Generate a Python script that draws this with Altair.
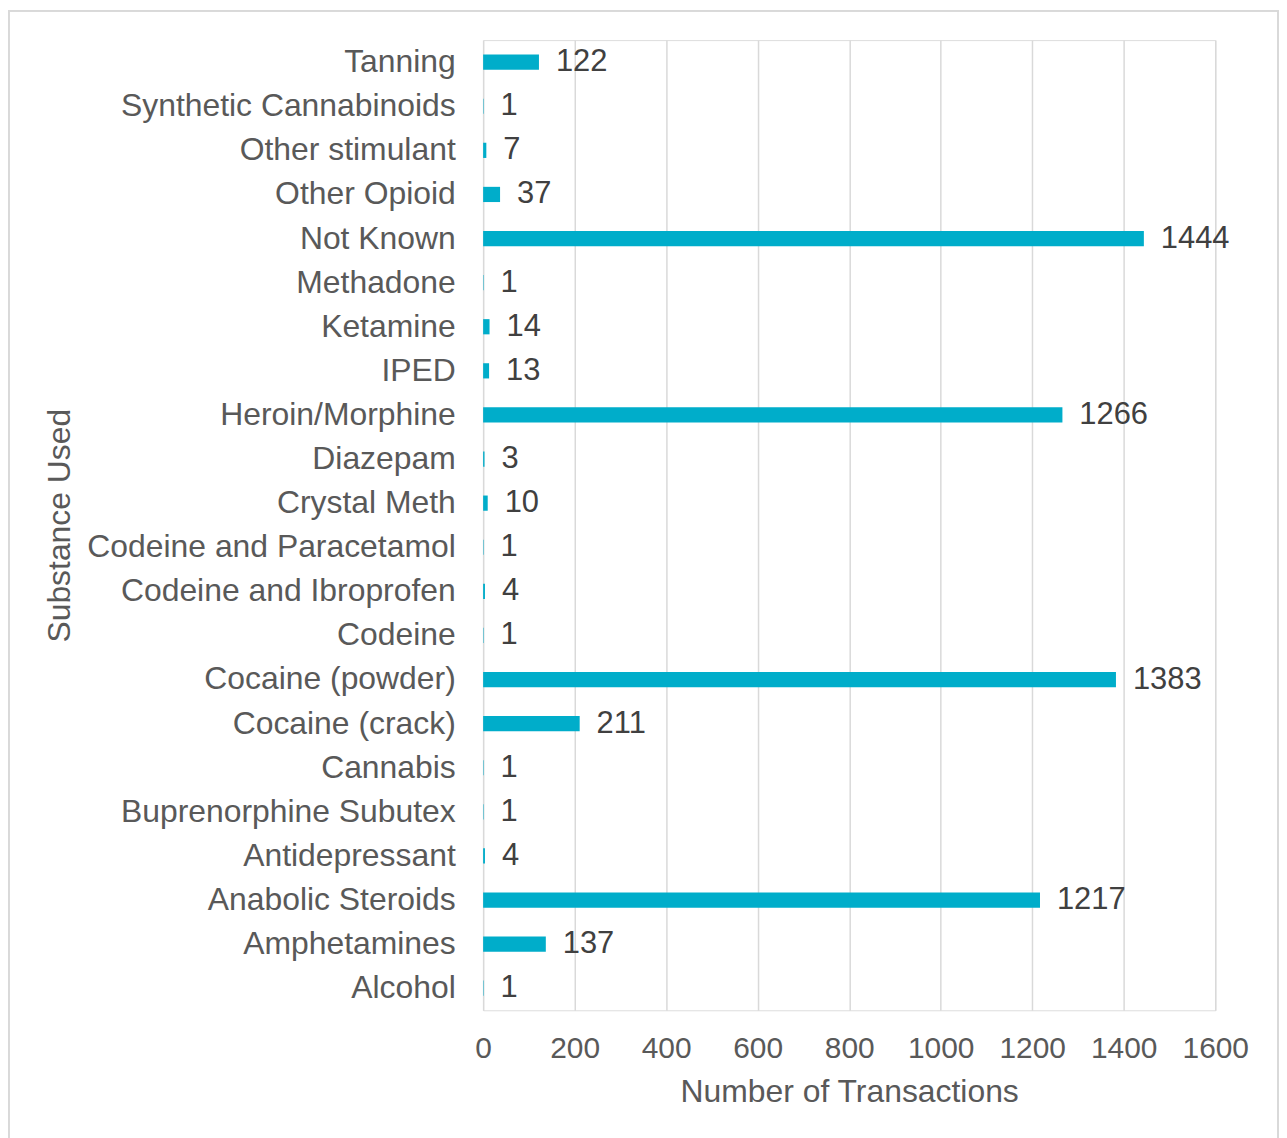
import altair as alt
import pandas as pd

categories = [
    "Tanning", "Synthetic Cannabinoids\u00a0", "Other stimulant", "Other Opioid",
    "Not Known", "Methadone", "Ketamine", "IPED", "Heroin/Morphine", "Diazepam",
    "Crystal Meth", "Codeine and Paracetamol", "Codeine and Ibroprofen", "Codeine",
    "Cocaine (powder)", "Cocaine (crack)", "Cannabis", "Buprenorphine Subutex",
    "Antidepressant", "Anabolic Steroids", "Amphetamines", "Alcohol",
]
values = [122, 1, 7, 37, 1444, 1, 14, 13, 1266, 3, 10, 1, 4, 1, 1383, 211, 1, 1, 4, 1217, 137, 1]
x_ticks = [0, 200, 400, 600, 800, 1000, 1200, 1400, 1600]

df = pd.DataFrame({"Substance": categories, "Count": values})

FONT = "Liberation Sans"
W, H = 735, 974

x_enc = alt.X(
    "Count:Q",
    scale=alt.Scale(domain=[0, 1600], nice=False, zero=True),
    axis=alt.Axis(
        values=x_ticks, format="d", title="Number of Transactions", grid=True,
        gridColor="#D9D9D9", gridWidth=1.5, domain=False, ticks=False,
        labelFontSize=30, labelFont=FONT, labelColor="#595959", labelPadding=23,
        labelFlush=False,
        titleFontSize=32, titleFont=FONT, titleColor="#595959",
        titleFontWeight="normal", titleY=82, titleBaseline="middle",
    ),
)
y_enc = alt.Y(
    "Substance:N",
    sort=categories,
    scale=alt.Scale(paddingInner=0.655, paddingOuter=0.3275),
    axis=alt.Axis(
        title="Substance Used", domain=False, ticks=False, grid=False,
        labelFontSize=32, labelFont=FONT, labelColor="#595959", labelPadding=28,
        labelLimit=600,
        titleFontSize=32, titleFont=FONT, titleColor="#595959",
        titleFontWeight="normal", titleX=-425, titleY=H / 2, titleBaseline="middle",
        titleAngle=270,
    ),
)

bars = alt.Chart(df).mark_bar(color="#00ADCA").encode(x=x_enc, y=y_enc)
labels = alt.Chart(df).mark_text(
    align="left", baseline="middle", dx=17, fontSize=31, font=FONT, color="#404040"
).encode(x="Count:Q", y=alt.Y("Substance:N", sort=categories), text="Count:Q")

border = alt.Chart(df).mark_rect(
    fill=None, stroke="#D9D9D9", strokeWidth=1.5
).encode(
    x=alt.value(-476.5), x2=alt.value(W + 63), y=alt.value(-29.5), y2=alt.value(1300)
)

chart = alt.layer(bars, labels, border).properties(
    width=W, height=H,
    padding={"left": 477, "top": 30, "right": 64, "bottom": 126},
    autosize=alt.AutoSizeParams(type="none"),
).configure_view(stroke=None).configure(background="white")

chart.save("out.html", embed_options={"renderer": "svg", "actions": False})
